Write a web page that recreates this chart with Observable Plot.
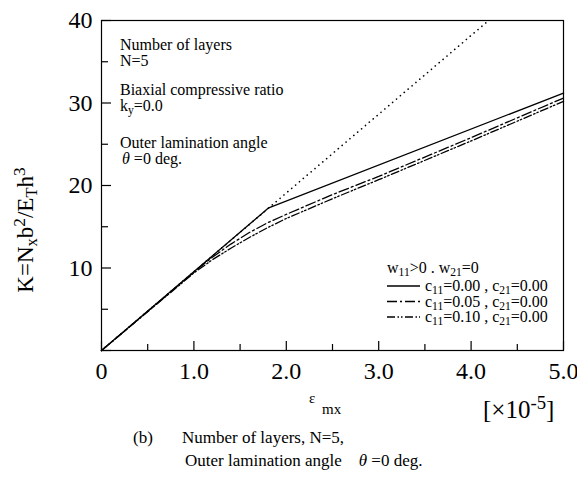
<!DOCTYPE html>
<html><head><meta charset="utf-8">
<script src="https://cdn.jsdelivr.net/npm/d3@7"></script>
<script src="https://cdn.jsdelivr.net/npm/@observablehq/plot@0.6"></script>
<style>body{margin:0;background:#fff}svg,svg text{font-family:"Liberation Serif","Times New Roman","DejaVu Serif",serif !important}</style>
</head><body><div id="chart"></div>
<script>
// Data (strain in 1e-5)
const epsLinear = [0, 4.19];
const kLinear = [0, 40];
const epsC000 = [0, 1.81, 5.0];
const kC000 = [0, 17.3, 31.2];
const epsC005 = [0, 1.0, 1.2, 1.4, 1.6, 1.8, 2.0, 2.5, 3.0, 4.0, 5.0];
const kC005 = [0, 9.5, 11.3, 12.9, 14.3, 15.5, 16.5, 18.9, 21.1, 25.8, 30.6];
const epsC010 = [0, 1.0, 1.2, 1.4, 1.6, 1.8, 2.0, 2.5, 3.0, 4.0, 5.0];
const kC010 = [0, 9.4, 11.0, 12.4, 13.7, 14.9, 16.0, 18.4, 20.7, 25.4, 30.2];
const xTickLabels = [0, 1, 2, 3, 4, 5];
const yTickLabels = [10, 20, 30, 40];
const legendLabels = ["c11=0.00 , c21=0.00", "c11=0.05 , c21=0.00", "c11=0.10 , c21=0.00"];

const toRows = (xs, ys) => xs.map((x, i) => ({x, y: ys[i]}));
const seriesStyle = [
  {rows: toRows(epsC000, kC000), dash: null},
  {rows: toRows(epsC005, kC005), dash: "10,3,2,3"},
  {rows: toRows(epsC010, kC010), dash: "8,2.5,1.5,2,1.5,2.5"}
];
const font = '"Liberation Serif","Times New Roman","DejaVu Serif",serif';
const noText = {tickFormat: () => "", label: null, strokeWidth: 1.2};

const chart = Plot.plot({
  width: 577, height: 477,
  marginLeft: 101, marginRight: 14, marginTop: 20, marginBottom: 127,
  x: {domain: [0, 5]},
  y: {domain: [0, 40]},
  style: {fontFamily: font, background: "white", color: "black"},
  marks: [
    Plot.line(toRows(epsLinear, kLinear), {x: "x", y: "y", stroke: "black", strokeWidth: 1.6, strokeDasharray: "0.1,5", strokeLinecap: "round"}),
    ...seriesStyle.map(s => Plot.line(s.rows, {x: "x", y: "y", stroke: "black", strokeWidth: 1.3, strokeDasharray: s.dash})),
    Plot.frame({stroke: "black", strokeWidth: 1.2}),
    Plot.axisX(d3.range(0, 5.01, 1), {tickSize: -9, ...noText}),
    Plot.axisX(d3.range(0.5, 5, 1), {tickSize: -6, ...noText}),
    Plot.axisY(d3.range(0, 40.01, 10), {tickSize: -10, ...noText}),
    Plot.axisY(d3.range(5, 40, 10), {tickSize: -7, ...noText}),
    Plot.axisX(xTickLabels, {tickSize: 0, tickPadding: 11, fontSize: 24, fontFamily: font, tickFormat: d => d === 0 ? "0" : d.toFixed(1), label: null}),
    Plot.axisY(yTickLabels, {tickSize: 0, tickPadding: 9, fontSize: 24, fontFamily: font, tickFormat: d => String(d), label: null})
  ]
});
document.getElementById("chart").appendChild(chart);

const svg = d3.select(chart);
svg.attr("overflow", "visible");
function rich(x, y, parts, size, extra) {
  const t = svg.append("text").attr("x", x).attr("y", y).attr("font-size", size)
    .attr("font-family", font).attr("fill", "black").attr("text-anchor", "start");
  if (extra) extra(t);
  for (const p of parts) {
    const [txt, mode] = Array.isArray(p) ? p : [p, null];
    const ts = t.append("tspan").text(txt);
    if (mode === "sub") ts.attr("baseline-shift", "-22%").attr("font-size", size * 0.72);
    if (mode === "sup") ts.attr("baseline-shift", "45%").attr("font-size", size * 0.75);
    if (mode === "it") ts.attr("font-style", "italic");
  }
  return t;
}
// annotations
rich(120, 50, ["Number of layers"], 16);
rich(120, 66, ["N=5"], 16);
rich(120, 95, ["Biaxial compressive ratio"], 16);
rich(120, 111, ["k", ["y", "sub"], "=0.0"], 16);
rich(120, 148, ["Outer lamination angle"], 16);
rich(122, 164, [["θ", "it"], " =0 deg."], 16);

// legend
rich(387, 273, ["w", ["11", "sub"], ">0 . w", ["21", "sub"], "=0"], 16);
legendLabels.forEach((lab, i) => {
  const y = 286 + i * 15.5;
  svg.append("line").attr("x1", 387).attr("x2", 420).attr("y1", y).attr("y2", y)
    .attr("stroke", "black").attr("stroke-width", 1.3).attr("stroke-dasharray", seriesStyle[i].dash);
  const m = lab.match(/c11=([\d.]+) , c21=([\d.]+)/);
  rich(425, y + 5, ["c", ["11", "sub"], "=" + m[1] + " , c", ["21", "sub"], "=" + m[2]], 16);
});

// axis titles
rich(309, 403, ["ε"], 15);
rich(322, 414, ["mx"], 15);
rich(483, 418, ["[×10", ["-5", "sup"], "]"], 25);
rich(0, 0, ["K=N", ["x", "sub"], "b", ["2", "sup"], "/E", ["T", "sub"], "h", ["3", "sup"]], 23,
  t => t.attr("transform", "translate(33,230) rotate(-90)").attr("text-anchor", "middle").attr("x", null).attr("y", null));

// caption
rich(133, 443, ["(b)"], 17);
rich(182, 443, ["Number of layers, N=5,"], 17);
rich(185, 466, ["Outer lamination angle\u00a0\u00a0\u00a0\u00a0", ["θ", "it"], " =0 deg."], 17);
</script></body></html>
